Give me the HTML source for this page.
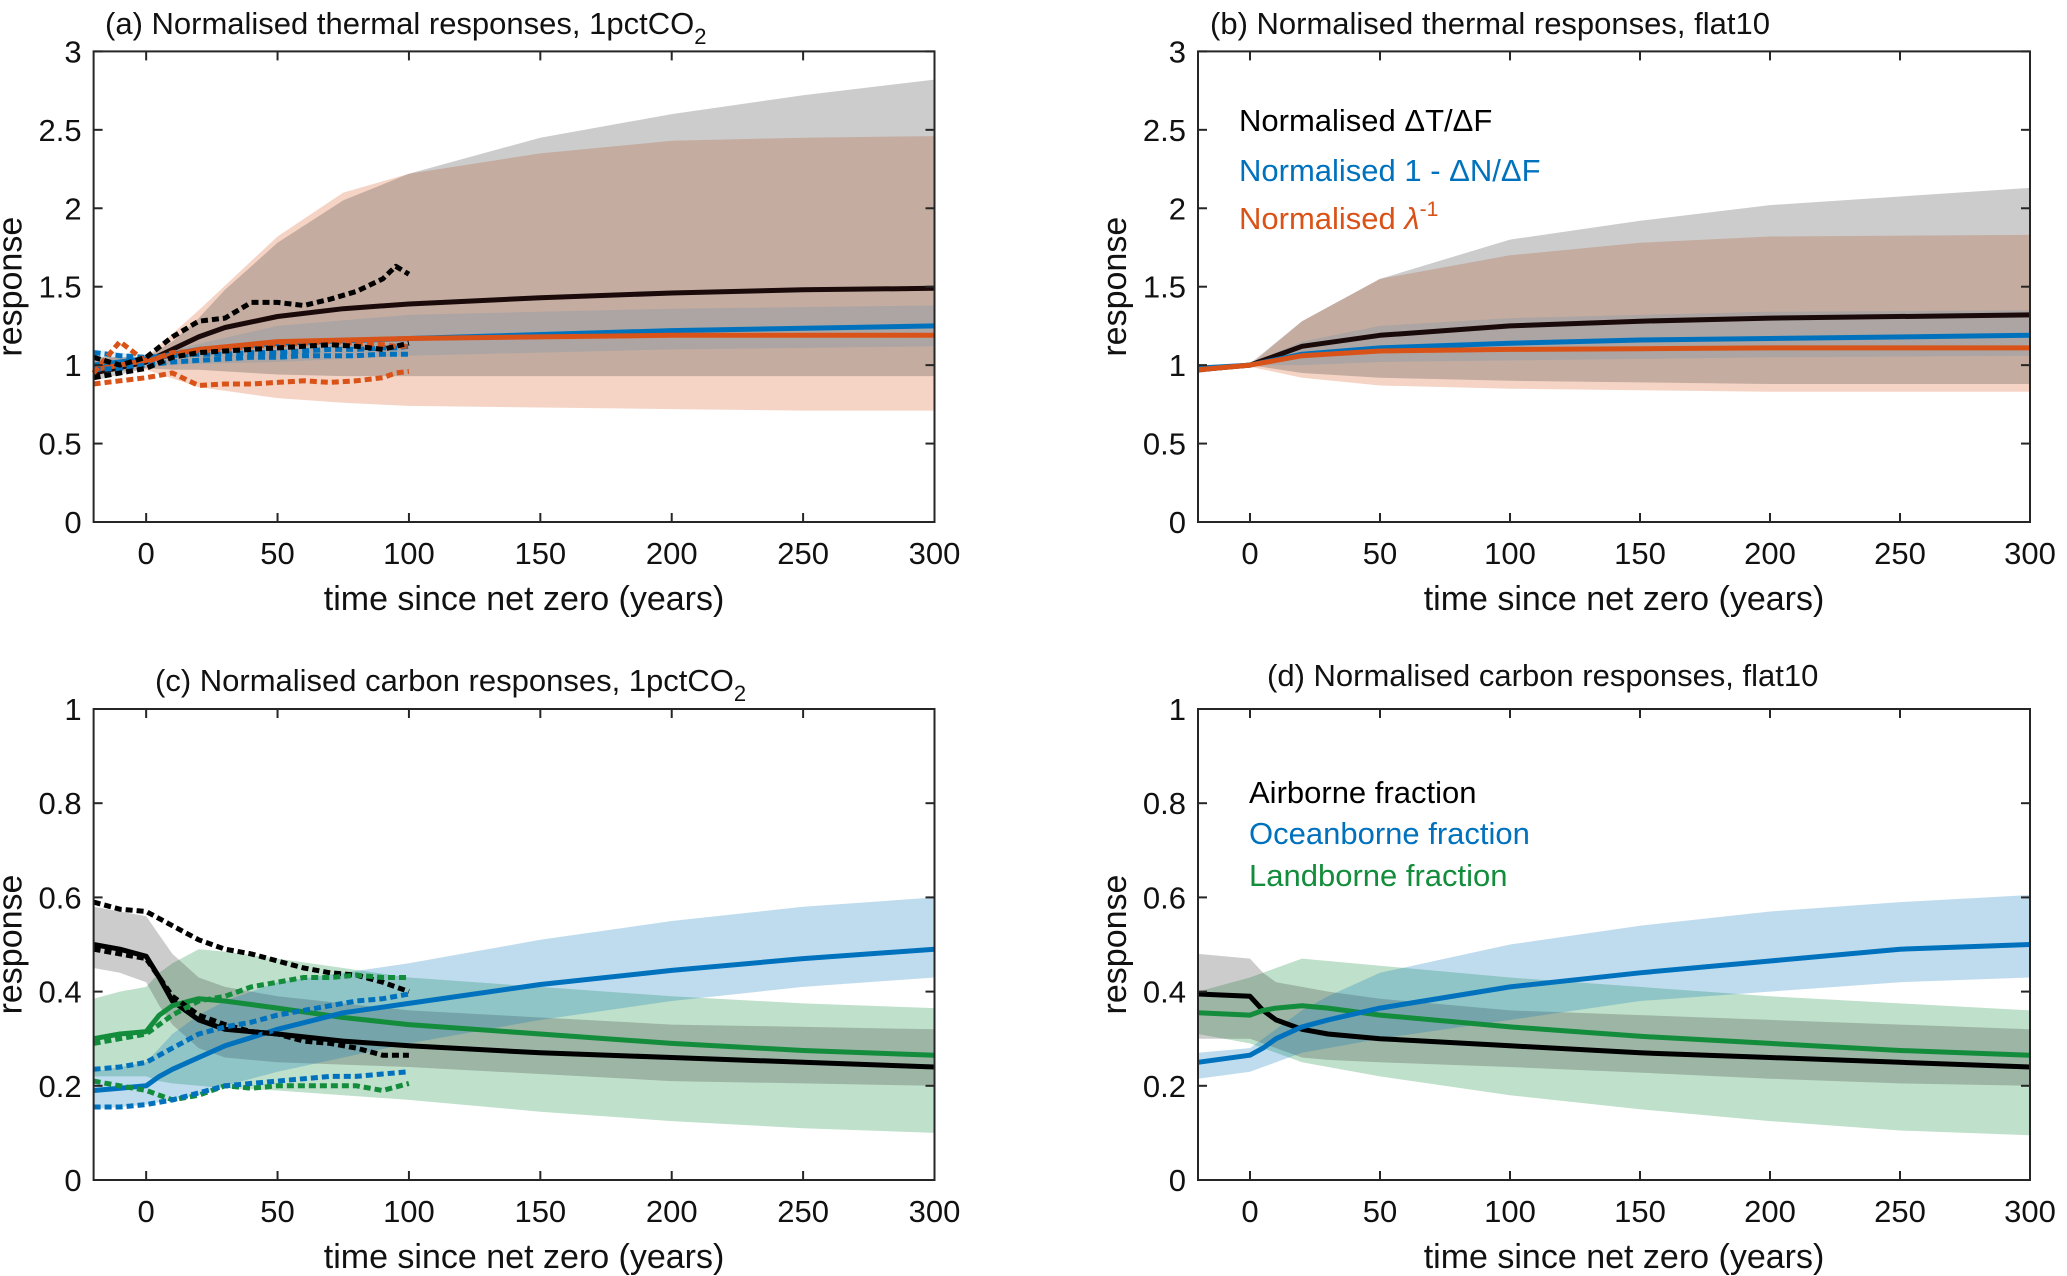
<!DOCTYPE html>
<html><head><meta charset="utf-8"><style>
html,body{margin:0;padding:0;background:#fff;}
svg{display:block;font-family:"Liberation Sans",Arial,sans-serif;}
</style></head><body>
<svg id="fig" width="2067" height="1276" viewBox="0 0 2067 1276" xmlns="http://www.w3.org/2000/svg"></svg>
<script>
// ---- data arrays (year -> value) ----
const aBlackYrs=[-20,0,10,20,30,50,75,100,150,200,250,300];
const aBlackMean=[0.95,1.02,1.1,1.18,1.24,1.31,1.36,1.39,1.43,1.46,1.48,1.49];
const aGrayYrs=[-20,0,10,20,30,50,75,100,150,200,250,300];
const aGrayUp=[1.05,1.05,1.15,1.3,1.48,1.78,2.05,2.22,2.45,2.6,2.72,2.82];
const aGrayLo=[0.9,0.98,0.97,0.97,0.96,0.94,0.93,0.93,0.93,0.93,0.93,0.93];
const aOrYrs=[-20,0,20,50,75,100,150,200,250,300];
const aOrUp=[1.05,1.05,1.35,1.82,2.1,2.22,2.35,2.43,2.45,2.46];
const aOrLo=[0.95,0.97,0.86,0.79,0.76,0.74,0.73,0.72,0.71,0.71];
const aBlueBandYrs=[-20,0,50,100,200,300];
const aBlueUp=[1.1,1.06,1.25,1.32,1.36,1.38];
const aBlueLo=[0.95,1.0,1.02,1.06,1.1,1.12];
const aMidYrs=[-20,0,20,50,100,200,300];
const aBlueMean=[1.0,1.04,1.1,1.14,1.17,1.22,1.25];
const aOrMean=[0.97,1.03,1.1,1.15,1.17,1.19,1.19];
const aDotYrs=[-20,-10,0,10,20,30,40,50,60,70,80,90,95,100];
const aDotBlackUp=[1.05,1.0,1.05,1.18,1.28,1.3,1.4,1.4,1.38,1.42,1.47,1.55,1.63,1.58];
const aDotBlackLo=[0.92,0.95,0.98,1.05,1.08,1.09,1.1,1.11,1.12,1.13,1.12,1.1,1.12,1.14];
const aDotOrUp=[0.95,1.15,1.02,1.08,1.09,1.1,1.12,1.13,1.14,1.15,1.14,1.13,1.12,1.12];
const aDotOrLo=[0.88,0.9,0.92,0.95,0.87,0.88,0.88,0.89,0.9,0.89,0.9,0.92,0.95,0.96];
const aDotBlueUp=[1.08,1.06,1.05,1.06,1.07,1.07,1.08,1.08,1.09,1.1,1.1,1.11,1.11,1.12];
const aDotBlueLo=[0.97,0.98,1.0,1.02,1.03,1.04,1.05,1.05,1.06,1.06,1.06,1.07,1.07,1.07];

const bYrs=[-20,0,20,50,100,150,200,300];
const bBlackMean=[0.97,1.0,1.12,1.19,1.25,1.28,1.3,1.32];
const bGrayUp=[1.0,1.01,1.28,1.55,1.8,1.92,2.02,2.13];
const bGrayLo=[0.95,1.0,0.95,0.92,0.9,0.89,0.88,0.88];
const bOrUp=[1.0,1.0,1.28,1.55,1.7,1.78,1.82,1.83];
const bOrLo=[0.95,0.99,0.92,0.87,0.85,0.84,0.83,0.83];
const bBlueUp=[1.0,1.01,1.15,1.25,1.3,1.32,1.34,1.35];
const bBlueLo=[0.97,1.0,1.0,1.02,1.03,1.04,1.05,1.06];
const bBlueMean=[0.98,1.0,1.07,1.11,1.14,1.16,1.17,1.19];
const bOrMean=[0.97,1.0,1.06,1.09,1.1,1.105,1.11,1.11];

const cYrs=[-20,-10,0,5,10,20,30,50,75,100,150,200,250,300];
const cBlackMean=[0.5,0.49,0.475,0.43,0.38,0.34,0.32,0.31,0.295,0.285,0.27,0.26,0.25,0.24];
const cGrayUp=[0.58,0.57,0.56,0.52,0.48,0.43,0.41,0.39,0.375,0.36,0.345,0.33,0.325,0.32];
const cGrayLo=[0.45,0.44,0.42,0.37,0.33,0.28,0.26,0.25,0.245,0.24,0.225,0.21,0.205,0.2];
const cGreenMean=[0.3,0.31,0.315,0.35,0.37,0.385,0.38,0.365,0.345,0.33,0.31,0.29,0.275,0.265];
const cGreenUp=[0.385,0.4,0.41,0.44,0.46,0.49,0.485,0.47,0.45,0.43,0.41,0.39,0.375,0.365];
const cGreenLo=[0.22,0.22,0.22,0.21,0.205,0.2,0.195,0.19,0.18,0.17,0.145,0.125,0.11,0.1];
const cBlueMean=[0.19,0.195,0.2,0.22,0.235,0.26,0.285,0.32,0.355,0.375,0.415,0.445,0.47,0.49];
const cBlueUp=[0.23,0.24,0.25,0.28,0.31,0.35,0.38,0.42,0.44,0.46,0.51,0.55,0.58,0.6];
const cBlueLo=[0.15,0.155,0.16,0.165,0.17,0.18,0.2,0.23,0.26,0.29,0.34,0.38,0.41,0.43];
const cDotYrs=[-20,-10,0,10,20,30,40,50,60,70,80,90,100];
const cDotBlackUp=[0.59,0.575,0.57,0.54,0.51,0.49,0.48,0.465,0.45,0.44,0.435,0.42,0.4];
const cDotBlackLo=[0.49,0.48,0.47,0.39,0.35,0.33,0.315,0.31,0.295,0.29,0.28,0.265,0.265];
const cDotGreenUp=[0.29,0.3,0.31,0.35,0.38,0.39,0.41,0.42,0.43,0.43,0.435,0.43,0.43];
const cDotGreenLo=[0.21,0.2,0.19,0.17,0.18,0.2,0.195,0.2,0.2,0.2,0.2,0.19,0.205];
const cDotBlueUp=[0.235,0.24,0.25,0.28,0.31,0.325,0.335,0.35,0.36,0.37,0.38,0.385,0.395];
const cDotBlueLo=[0.155,0.155,0.16,0.17,0.185,0.2,0.205,0.21,0.215,0.22,0.22,0.225,0.23];

const dYrs=[-20,0,5,10,20,30,50,100,150,200,250,300];
const dBlackMean=[0.395,0.39,0.36,0.34,0.32,0.31,0.3,0.285,0.27,0.26,0.25,0.24];
const dGrayUp=[0.48,0.47,0.44,0.42,0.41,0.4,0.385,0.36,0.35,0.34,0.33,0.32];
const dGrayLo=[0.3,0.3,0.29,0.28,0.26,0.255,0.25,0.24,0.228,0.215,0.205,0.2];
const dGreenMean=[0.355,0.35,0.36,0.365,0.37,0.365,0.35,0.325,0.305,0.29,0.275,0.265];
const dGreenUp=[0.4,0.43,0.44,0.45,0.47,0.465,0.455,0.43,0.41,0.39,0.375,0.36];
const dGreenLo=[0.31,0.29,0.28,0.27,0.25,0.24,0.22,0.18,0.15,0.125,0.105,0.095];
const dBlueMean=[0.25,0.265,0.28,0.3,0.325,0.34,0.365,0.41,0.44,0.465,0.49,0.5];
const dBlueUp=[0.27,0.28,0.3,0.32,0.36,0.39,0.44,0.5,0.54,0.57,0.59,0.605];
const dBlueLo=[0.215,0.23,0.24,0.25,0.27,0.28,0.3,0.34,0.38,0.4,0.42,0.43];

const xTicks=[0,50,100,150,200,250,300];
const yTicksTop=[0,0.5,1,1.5,2,2.5,3];
const yTickTopLabels=["0","0.5","1","1.5","2","2.5","3"];
const yTicksBot=[0,0.2,0.4,0.6,0.8,1];
const yTickBotLabels=["0","0.2","0.4","0.6","0.8","1"];

const K="#000000",B="#0072BD",O="#D95319",G="#138C3C";
const NS="http://www.w3.org/2000/svg";
const svg=document.getElementById('fig');
function mk(tag,attrs,parent){const e=document.createElementNS(NS,tag);for(const k in attrs)e.setAttribute(k,attrs[k]);(parent||svg).appendChild(e);return e;}

function panel(id,L,R,T,Bt,ymax,yt,ytl,title,titleX,titleY){
  const g=mk('g',{});
  
  
  const sx=v=>L+(v+20)*(R-L)/320;
  const sy=v=>Bt-v*(Bt-T)/ymax;
  const marks=mk('g',{},g);
  const P={g,marks,sx,sy};
  P.band=(xs,up,lo,col,op,name)=>{
    let d='M'+xs.map((x,i)=>sx(x).toFixed(1)+','+sy(up[i]).toFixed(1)).join(' L');
    for(let i=xs.length-1;i>=0;i--)d+=' L'+sx(xs[i]).toFixed(1)+','+sy(lo[i]).toFixed(1);
    const p=mk('path',{d:d+'Z',fill:col,'fill-opacity':op,stroke:'none'},marks);
    
    
  };
  P.line=(xs,ys,col,w,dash,name)=>{
    const a={d:'M'+xs.map((x,i)=>sx(x).toFixed(1)+','+sy(ys[i]).toFixed(1)).join(' L'),fill:'none',stroke:col,'stroke-width':w,'stroke-linejoin':'round'};
    if(dash)a['stroke-dasharray']=dash;
    const p=mk('path',a,marks);
    
    
  };
  P.finish=()=>{
    const fr=mk('rect',{x:L,y:T,width:R-L,height:Bt-T,fill:'none',stroke:'#262626','stroke-width':2},g);
    
    
    xTicks.forEach(v=>{
      const x=sx(v);
      mk('line',{x1:x,x2:x,y1:Bt,y2:Bt-9,stroke:'#262626','stroke-width':2},g);
      mk('line',{x1:x,x2:x,y1:T,y2:T+9,stroke:'#262626','stroke-width':2},g);
      const t=mk('text',{x:x,y:Bt+42,'font-size':31,'text-anchor':'middle',fill:'#111'},g);t.textContent=v;
      
      
    });
    yt.forEach((v,i)=>{
      const y=sy(v);
      mk('line',{x1:L,x2:L+9,y1:y,y2:y,stroke:'#262626','stroke-width':2},g);
      mk('line',{x1:R,x2:R-9,y1:y,y2:y,stroke:'#262626','stroke-width':2},g);
      const t=mk('text',{x:L-12,y:y+11,'font-size':31,'text-anchor':'end',fill:'#111'},g);t.textContent=ytl[i];
      
      
    });
    const xl=mk('text',{x:(L+R)/2+10,y:Bt+88,'font-size':34,'text-anchor':'middle',fill:'#111'},g);
    xl.textContent='time since net zero (years)';
    
    
    const yx=L-72,yy=(T+Bt)/2;
    const yl=mk('text',{x:yx,y:yy,'font-size':34,'text-anchor':'middle',fill:'#111',transform:'rotate(-90 '+yx+' '+yy+')'},g);
    yl.textContent='response';
    
    
    const tt=mk('text',{x:titleX,y:titleY,'font-size':31,fill:'#111'},g);
    tt.innerHTML=title;
    
    
  };
  return P;
}

const DASH='7,4';
// Panel a
const pa=panel('a',93.6,934.5,51.4,522,3,yTicksTop,yTickTopLabels,'(a) Normalised thermal responses, 1pctCO<tspan font-size="22" dy="10">2</tspan>',105,34);
pa.band(aOrYrs,aOrUp,aOrLo,O,0.25,'band-lambda');
pa.band(aGrayYrs,aGrayUp,aGrayLo,'#333',0.25,'band-dT-dF');
pa.band(aBlueBandYrs,aBlueUp,aBlueLo,B,0.12,'band-1-dN-dF');
pa.line(aBlackYrs,aBlackMean,'#1a0a0a',5,null,'line-dT-dF');
pa.line(aMidYrs,aBlueMean,B,5,null,'line-1-dN-dF');
pa.line(aMidYrs,aOrMean,O,5,null,'line-lambda');
pa.line(aDotYrs,aDotBlueUp,B,5,DASH,'dotted-blue-upper');
pa.line(aDotYrs,aDotBlueLo,B,5,DASH,'dotted-blue-lower');
pa.line(aDotYrs,aDotOrUp,O,5,DASH,'dotted-orange-upper');
pa.line(aDotYrs,aDotOrLo,O,5,DASH,'dotted-orange-lower');
pa.line(aDotYrs,aDotBlackUp,K,5,DASH,'dotted-black-upper');
pa.line(aDotYrs,aDotBlackLo,K,5,DASH,'dotted-black-lower');
pa.finish();

// Panel b
const pb=panel('b',1198,2030,51.4,522,3,yTicksTop,yTickTopLabels,'(b) Normalised thermal responses, flat10',1210,34);
pb.band(bYrs,bOrUp,bOrLo,O,0.25,'band-lambda');
pb.band(bYrs,bGrayUp,bGrayLo,'#333',0.25,'band-dT-dF');
pb.band(bYrs,bBlueUp,bBlueLo,B,0.12,'band-1-dN-dF');
pb.line(bYrs,bBlackMean,'#1a0a0a',5,null,'line-dT-dF');
pb.line(bYrs,bBlueMean,B,5,null,'line-1-dN-dF');
pb.line(bYrs,bOrMean,O,5,null,'line-lambda');
pb.finish();
[['Normalised ΔT/ΔF',K,131],['Normalised 1 - ΔN/ΔF',B,181],['Normalised <tspan font-style="italic">λ</tspan><tspan font-size="21" dy="-13">-1</tspan>',O,229]].forEach((e,i)=>{
  const t=mk('text',{x:1239,y:e[2],'font-size':31,fill:e[1]});
  t.innerHTML=e[0];
  
  
});

// Panel c
const pc=panel('c',93.6,934.5,709,1180,1,yTicksBot,yTickBotLabels,'(c) Normalised carbon responses, 1pctCO<tspan font-size="22" dy="10">2</tspan>',155,691);
pc.band(cYrs,cGreenUp,cGreenLo,G,0.27,'band-landborne');
pc.band(cYrs,cGrayUp,cGrayLo,'#333',0.25,'band-airborne');
pc.band(cYrs,cBlueUp,cBlueLo,B,0.25,'band-oceanborne');
pc.line(cYrs,cBlackMean,K,5,null,'line-airborne');
pc.line(cYrs,cGreenMean,G,5,null,'line-landborne');
pc.line(cYrs,cBlueMean,B,5,null,'line-oceanborne');
pc.line(cDotYrs,cDotBlackUp,K,5,DASH,'dotted-black-upper');
pc.line(cDotYrs,cDotBlackLo,K,5,DASH,'dotted-black-lower');
pc.line(cDotYrs,cDotGreenUp,G,5,DASH,'dotted-green-upper');
pc.line(cDotYrs,cDotGreenLo,G,5,DASH,'dotted-green-lower');
pc.line(cDotYrs,cDotBlueUp,B,5,DASH,'dotted-blue-upper');
pc.line(cDotYrs,cDotBlueLo,B,5,DASH,'dotted-blue-lower');
pc.finish();

// Panel d
const pd=panel('d',1198,2030,709,1180,1,yTicksBot,yTickBotLabels,'(d) Normalised carbon responses, flat10',1267,686);
pd.band(dYrs,dGreenUp,dGreenLo,G,0.27,'band-landborne');
pd.band(dYrs,dGrayUp,dGrayLo,'#333',0.25,'band-airborne');
pd.band(dYrs,dBlueUp,dBlueLo,B,0.25,'band-oceanborne');
pd.line(dYrs,dBlackMean,K,5,null,'line-airborne');
pd.line(dYrs,dGreenMean,G,5,null,'line-landborne');
pd.line(dYrs,dBlueMean,B,5,null,'line-oceanborne');
pd.finish();
[['Airborne fraction',K,803],['Oceanborne fraction',B,844],['Landborne fraction',G,886]].forEach((e,i)=>{
  const t=mk('text',{x:1249,y:e[2],'font-size':31,fill:e[1]});
  t.textContent=e[0];
  
  
});
</script>
</body></html>
